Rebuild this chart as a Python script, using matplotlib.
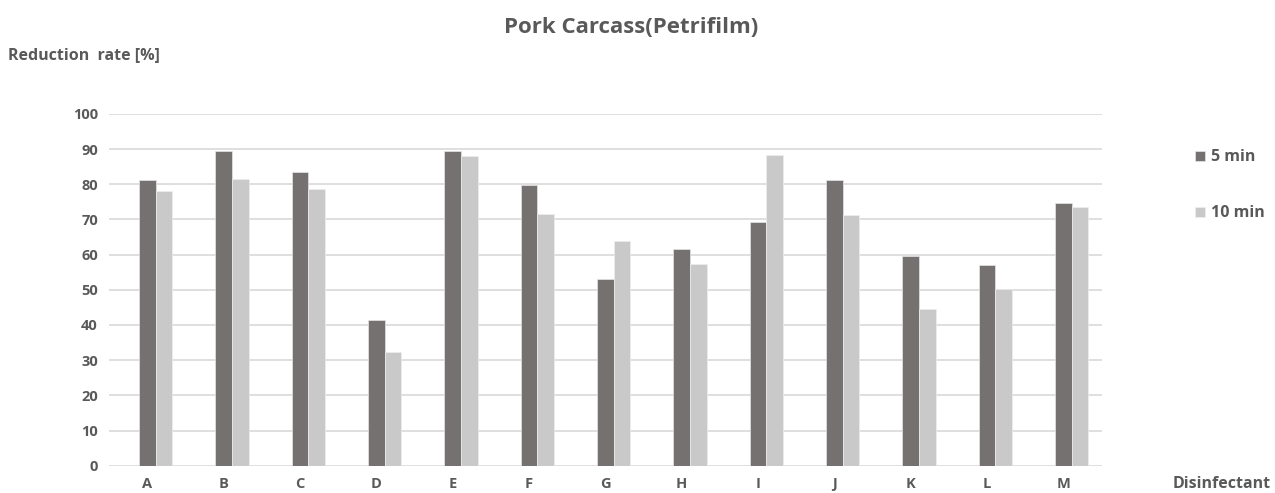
import numpy as np
import matplotlib
matplotlib.use('Agg')
import matplotlib.pyplot as plt

plt.rcParams['font.family'] = ['Open Sans', 'DejaVu Sans']

categories = ['A', 'B', 'C', 'D', 'E', 'F', 'G', 'H', 'I', 'J', 'K', 'L', 'M']
min5 = [81.2, 89.4, 83.5, 41.5, 89.4, 79.8, 53.2, 61.7, 69.4, 81.2, 59.6, 57.0, 74.6]
min10 = [78.0, 81.6, 78.7, 32.2, 88.0, 71.4, 63.9, 57.4, 88.4, 71.3, 44.4, 50.1, 73.6]

txt = '#595959'
fig = plt.figure(figsize=(12.75, 4.93), dpi=100)
ax = fig.add_axes([0.0855, 0.0554, 0.7785, 0.7136])

x = np.arange(len(categories))
w = 0.218
ax.bar(x, min5, w, color='#767171', edgecolor='#e6e6e6', linewidth=0.5, label='5 min', zorder=3)
ax.bar(x + w, min10, w, color='#c9c9c9', edgecolor='#eeeeee', linewidth=0.5, label='10 min', zorder=3)

ax.set_xlim(-0.5, len(categories) - 0.5)
ax.set_ylim(0, 100)
ax.set_yticks(range(0, 101, 10))
ax.set_xticks(x)
ax.set_xticklabels(categories)
ax.grid(axis='y', color='#d9d9d9', linewidth=1.2, zorder=0)
for s in ax.spines.values():
    s.set_visible(False)
ax.tick_params(length=0, colors=txt, labelsize=10.5, pad=8)
for t in ax.get_xticklabels() + ax.get_yticklabels():
    t.set_fontweight('bold')

fig.text(0.495, 0.945, 'Pork Carcass(Petrifilm)', ha='center', va='center',
         fontsize=16, fontweight='bold', color=txt)
fig.text(0.006, 0.888, 'Reduction  rate [%]', ha='left', va='center',
         fontsize=11.5, fontweight='bold', color=txt)
fig.text(0.997, 0.003, 'Disinfectant', ha='right', va='bottom',
         fontsize=11.5, fontweight='bold', color=txt)

leg = ax.legend(loc='upper left', bbox_to_anchor=(1.08, 0.94), frameon=False,
                handlelength=0.6, handleheight=0.6, handletextpad=0.4,
                labelspacing=2.5, fontsize=11.5, labelcolor=txt)
for t in leg.get_texts():
    t.set_fontweight('bold')

fig.savefig('out.png', dpi=100)
